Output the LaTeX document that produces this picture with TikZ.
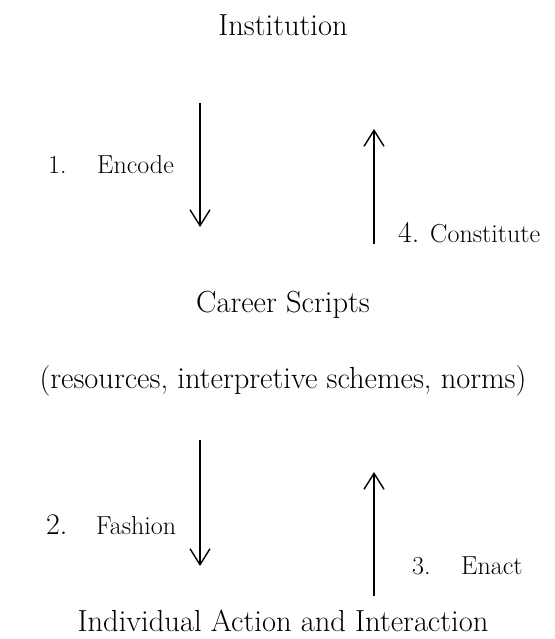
\documentclass[tikz,border=0pt]{standalone}
\usetikzlibrary{arrows.meta}
\begin{document}
\begin{tikzpicture}[x=1pt,y=-1pt,
  main/.style={inner sep=0pt, anchor=base, font=\fontsize{30.5}{34}\selectfont},
  lab/.style={inner sep=0pt, anchor=base west, font=\fontsize{26}{30}\selectfont},
  bignum/.style={inner sep=0pt, anchor=base west, font=\fontsize{30}{34}\selectfont},
  flow/.style={line width=1.4pt, -{Straight Barb[length=16pt,width=20pt,line width=1.4pt]}}]
\useasboundingbox (0,0) rectangle (554,639);
% main texts
\node[main] (inst) at (283,36) {Institution};
\node[main] (career) at (283,312) {Career Scripts};
\node[main] (res) at (283,388) {(resources, interpretive schemes, norms)};
\node[main] (indiv) at (283,631) {Individual Action and Interaction};
% labels
\node[lab] (n1) at (48,173) {1.};
\node[lab] (encode) at (97,173) {Encode};
\node[bignum] (n4) at (398,242) {4.};
\node[lab] (constitute) at (430,242) {Constitute};
\node[bignum] (n2) at (46,534) {2.};
\node[lab] (fashion) at (96,534) {Fashion};
\node[lab] (n3) at (412,574) {3.};
\node[lab] (enact) at (461,574) {Enact};
% arrow ends
\coordinate (a1s) at (200,103);
\coordinate (a1e) at (200,227);
\coordinate (a4s) at (374,244);
\coordinate (a4e) at (374,129);
\coordinate (a2s) at (200,440);
\coordinate (a2e) at (200,566);
\coordinate (a3s) at (374,596);
\coordinate (a3e) at (374,472);
\draw[flow] (a1s) -- (a1e);
\draw[flow] (a4s) -- (a4e);
\draw[flow] (a2s) -- (a2e);
\draw[flow] (a3s) -- (a3e);
\end{tikzpicture}
\end{document}
